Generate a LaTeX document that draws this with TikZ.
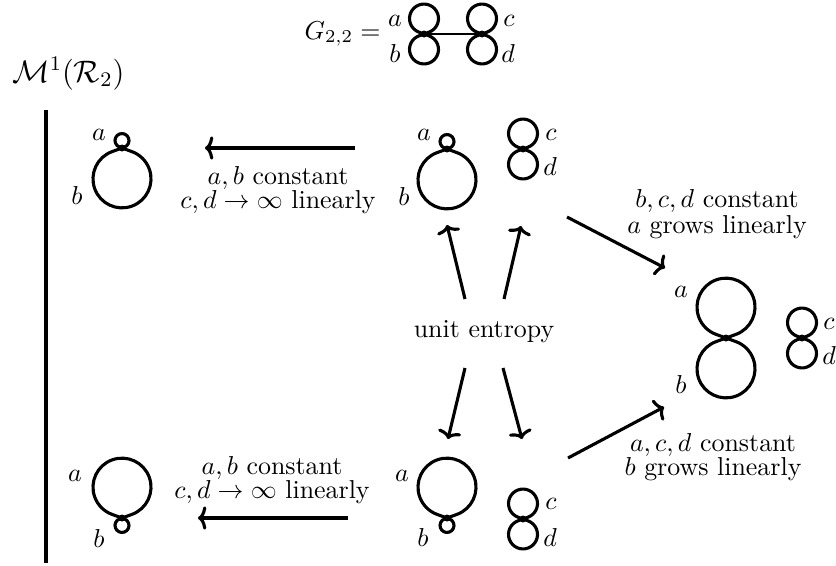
\documentclass[tikz,border=0pt]{standalone}
\usepackage{xcolor}
\usepackage{tikz}
\usepackage{amsmath, amssymb, amsthm}
\usetikzlibrary{arrows.meta}

% lazo: vertice, direccion, radio
\newcommand{\petalo}[3]{\draw[lazo] (#1.center) -- ++(#2-70:0.364*#3) arc[start angle=#2-160, end angle=#2+160, radius=#3] -- cycle;}

\begin{document}
\begin{tikzpicture}[x=0.386pt, y=0.386pt,
  vert/.style={circle, fill, inner sep=0pt, minimum size=2.7pt},
  lazo/.style={line width=1.2pt, line join=round},
  flecha/.style={line width=1.2pt, -{To[length=3.2pt, width=9pt]}},
  etq/.style={inner sep=0pt},
  txt/.style={inner sep=0pt, anchor=base},
  regla/.style={inner sep=0pt, align=center}]
  \useasboundingbox (0,0) rectangle (836,565);

  % Grafo G_{2,2}
  \node[txt, anchor=base east] (G) at (381,526) {$G_{2,2} =$};
  \node[vert] (g1) at (424,531) {};
  \node[vert] (g2) at (482,531) {};
  \draw[line width=0.9pt] (g1) -- (g2);
  \petalo{g1}{90}{14.5} \petalo{g1}{270}{14.5}
  \petalo{g2}{90}{14.5} \petalo{g2}{270}{14.5}
  \node[etq] (ga) at (395,544) {$a$};
  \node[etq] (gb) at (395,511) {$b$};
  \node[etq] (gc) at (509,544) {$c$};
  \node[etq] (gd) at (508,511) {$d$};

  % Espacio de moduli
  \node[txt, anchor=base west, font=\large] (M) at (12,483) {$\mathcal{M}^1(\mathcal{R}_2)$};
  \coordinate (bar1) at (46,455);
  \coordinate (bar2) at (46,2);
  \draw[line width=1.2pt] (bar1) -- (bar2);

  % Vertices
  \node[vert] (tl) at (122,417) {};   % arriba izquierda
  \node[vert] (tm) at (447,416) {};   % arriba centro
  \node[vert] (tc) at (523,416) {};   % arriba c,d
  \node[vert] (bl) at (122,47) {};    % abajo izquierda
  \node[vert] (bm) at (447,47) {};    % abajo centro
  \node[vert] (bc) at (523,46) {};    % abajo c,d
  \node[vert] (r) at (726,227) {};    % derecha
  \node[vert] (rc) at (802,227) {};   % derecha c,d

  % Lazos
  \petalo{tl}{90}{7}   \petalo{tl}{270}{29}
  \petalo{tm}{90}{7}   \petalo{tm}{270}{29}
  \petalo{tc}{90}{14.5} \petalo{tc}{270}{14.5}
  \petalo{bl}{90}{29}  \petalo{bl}{270}{7}
  \petalo{bm}{90}{29}  \petalo{bm}{270}{7}
  \petalo{bc}{90}{14.5} \petalo{bc}{270}{14.5}
  \petalo{r}{90}{29}   \petalo{r}{270}{29}
  \petalo{rc}{90}{14.5} \petalo{rc}{270}{14.5}

  % Etiquetas
  \node[etq] (tla) at (99,430) {$a$};
  \node[etq] (tlb) at (77,370) {$b$};
  \node[etq] (tma) at (424,430) {$a$};
  \node[etq] (tmb) at (404,369) {$b$};
  \node[etq] (tcc) at (551,430) {$c$};
  \node[etq] (tcd) at (550,399) {$d$};
  \node[etq] (bla) at (75,89) {$a$};
  \node[etq] (blb) at (99,27) {$b$};
  \node[etq] (bma) at (402,89) {$a$};
  \node[etq] (bmb) at (423,28) {$b$};
  \node[etq] (bcc) at (551,61) {$c$};
  \node[etq] (bcd) at (550,28) {$d$};
  \node[etq] (ra) at (681,273) {$a$};
  \node[etq] (rb) at (681,181) {$b$};
  \node[etq] (rcc) at (829,241) {$c$};
  \node[etq] (rcd) at (829,210) {$d$};

  % Textos
  \node[txt] (ue) at (484,228) {unit entropy};
  \node[regla] (t1) at (278,375) {$a,b$ constant\\[-2.7pt] $c,d\to\infty$ linearly};
  \node[regla] (t2) at (272,85) {$a,b$ constant\\[-2.7pt] $c,d\to\infty$ linearly};
  \node[regla] (t3) at (717,351) {$b,c,d$ constant\\[-2pt] $a$ grows linearly};
  \node[regla] (t4) at (713,108) {$a,c,d$ constant\\[-2.7pt] $b$ grows linearly};

  % Extremos de flechas
  \coordinate (s1) at (355,417); \coordinate (e1) at (205,417);
  \coordinate (s2) at (348,47);  \coordinate (e2) at (198,47);
  \coordinate (s3) at (465,266); \coordinate (e3) at (447,340);
  \coordinate (s4) at (504,266); \coordinate (e4) at (521,339);
  \coordinate (s5) at (465,197); \coordinate (e5) at (448,126);
  \coordinate (s6) at (503,197); \coordinate (e6) at (522,126);
  \coordinate (s7) at (567,348); \coordinate (e7) at (665,297);
  \coordinate (s8) at (568,107); \coordinate (e8) at (664,158);

  % Flechas
  \foreach \i in {1,...,8}
    \draw[flecha] (s\i) -- (e\i);
\end{tikzpicture}
\end{document}
